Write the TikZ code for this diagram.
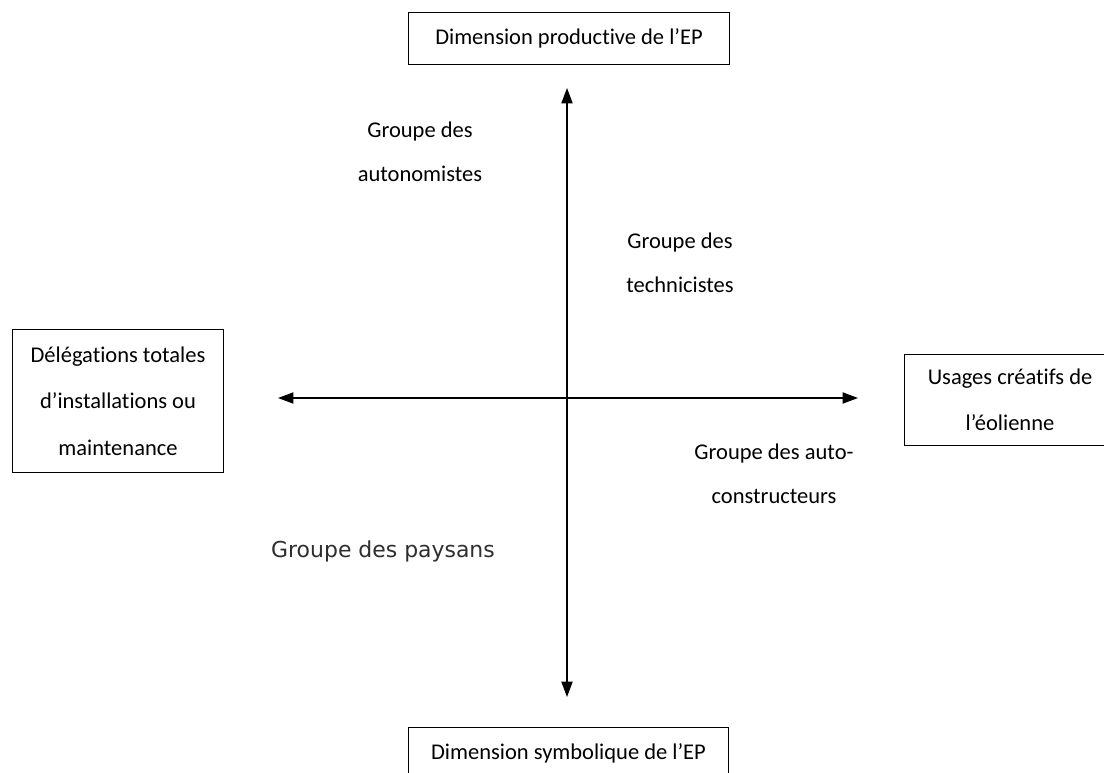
\documentclass[tikz,border=0pt]{standalone}
\usepackage{fontspec}
\setmainfont[Ligatures=NoCommon]{Carlito}
\newfontfamily\paysfont{DejaVu Sans}
\usetikzlibrary{arrows.meta}
\tikzset{
  dimbox/.style={draw,line width=0.6pt,inner sep=0pt,align=center,
    font=\fontsize{16}{33}\selectfont},
  grouplbl/.style={align=center,font=\fontsize{16}{31}\selectfont},
  axe/.style={line width=0.9pt,{Triangle[length=11pt,width=8pt]}-{Triangle[length=11pt,width=8pt]}}
}
\begin{document}
\begin{tikzpicture}[x=0.025cm,y=-0.025cm]
\useasboundingbox(0,0)rectangle(1104,773);
\clip(0,0)rectangle(1104,773);
% boites des dimensions
\node[dimbox,minimum width=228pt,minimum height=37pt](prod)at(569,38){Dimension productive de l'EP};
\node[dimbox,minimum width=228pt,minimum height=37pt](symb)at(568.5,753){Dimension symbolique de l'EP};
\node[dimbox,minimum width=150pt,minimum height=102pt](deleg)at(118,401){Délégations totales\\d'installations ou\\maintenance};
\node[dimbox,minimum width=150pt,minimum height=65pt](usag)at(1010,400){Usages créatifs de\\l'éolienne};
% axes
\coordinate(haut)at(567,88);
\coordinate(bas)at(567,697);
\coordinate(gauche)at(278,398);
\coordinate(droite)at(858,398);
\draw[axe](bas)--(haut);
\draw[axe](gauche)--(droite);
% groupes
\node[grouplbl](auton)at(420,152){Groupe des\\autonomistes};
\node[grouplbl](techn)at(680,263){Groupe des\\technicistes};
\node[grouplbl](autoc)at(774,474){Groupe des auto-\\constructeurs};
\node[font=\paysfont\fontsize{15.6}{18}\selectfont,text=black!82](pays)at(383,551){Groupe des paysans};
\end{tikzpicture}
\end{document}
